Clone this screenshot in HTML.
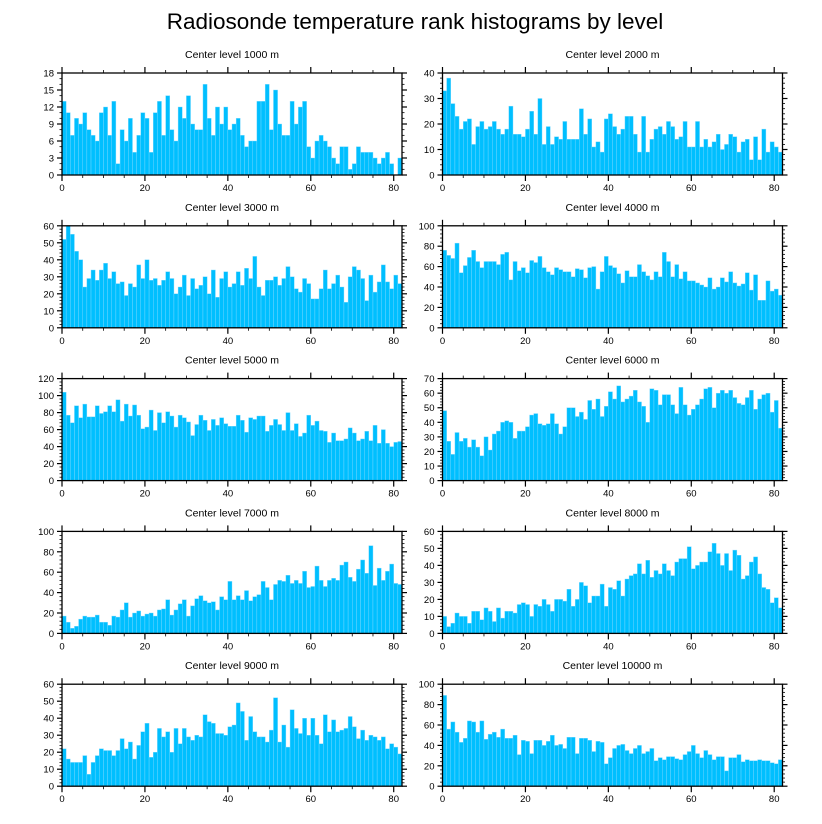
<!DOCTYPE html>
<html><head><meta charset="utf-8"><style>
html,body{margin:0;padding:0;background:#fff;}
svg{display:block;font-family:"Liberation Sans",sans-serif;}
</style></head><body>
<svg id="chart" width="822" height="824" viewBox="0 0 822 824">
<text x="415" y="29" text-anchor="middle" font-size="22.5" fill="#000">Radiosonde temperature rank histograms by level</text>
</svg>
<script>
const titles = ["Center level 1000 m","Center level 2000 m","Center level 3000 m","Center level 4000 m","Center level 5000 m","Center level 6000 m","Center level 7000 m","Center level 8000 m","Center level 9000 m","Center level 10000 m"];
const yMax = [18,40,60,100,120,70,100,60,60,100];
const yStep = [3,10,10,20,20,10,20,10,10,20];
const yMinor = [1,2,2,4,4,2,4,2,2,4];
const xTicks = [0,20,40,60,80];
const d1000 = [13,11,7,10,9,11,8,7,6,11,12,7,13,2,8,6,10,4,7,11,10,4,11,13,7,14,8,6,12,10,14,9,8,8,16,10,7,12,9,12,8,9,10,7,5,6,6,13,13,16,8,15,9,7,7,13,9,12,13,5,3,6,7,6,5,3,2,5,5,1,2,5,4,4,4,3,2,3,4,2,0,3];
const d2000 = [33,38,28,23,18,21,22,12,19,21,18,19,21,18,16,18,27,16,16,15,18,25,16,30,12,19,12,15,14,21,14,14,14,26,16,22,11,13,9,22,24,19,16,18,23,23,16,9,23,9,14,18,19,16,21,19,14,15,21,11,11,21,11,14,11,13,16,10,12,16,15,9,13,14,6,15,6,18,9,13,11,9];
const d3000 = [52,60,55,45,40,24,29,34,28,34,38,29,33,26,27,19,26,24,37,29,40,28,29,25,28,33,29,20,24,31,19,29,23,25,30,20,34,18,29,33,24,26,33,25,35,29,42,24,19,28,28,30,25,29,36,30,23,21,29,26,17,17,23,34,23,26,31,24,15,30,36,34,29,16,31,21,27,37,27,23,31,26];
const d4000 = [76,71,68,83,54,61,69,76,65,59,65,65,65,62,72,74,47,65,56,59,54,66,64,70,59,55,52,59,57,55,55,50,58,57,49,59,60,38,55,70,61,59,53,44,56,50,50,62,55,51,47,55,50,74,65,50,62,48,55,46,46,44,42,40,49,38,40,49,45,55,44,41,43,54,37,52,27,27,46,36,38,32];
const d5000 = [104,77,68,88,74,90,75,75,88,79,81,88,81,95,70,90,76,89,77,61,63,83,59,80,68,81,76,63,77,74,69,53,66,77,71,59,72,65,74,67,64,64,77,71,57,74,72,76,76,58,65,72,66,59,80,59,67,52,56,77,65,70,59,58,45,56,47,47,49,62,56,47,49,58,47,65,44,60,44,40,45,46];
const d6000 = [48,27,18,33,27,29,23,28,23,17,30,21,32,34,40,41,40,29,34,34,37,45,46,39,38,39,46,39,32,37,50,50,44,47,42,55,49,56,44,51,61,56,65,54,56,58,62,54,51,40,63,62,52,59,59,52,46,64,52,45,49,52,56,63,64,50,60,62,60,62,57,53,52,57,62,49,56,59,60,47,55,36];
const d7000 = [17,11,5,7,14,17,16,16,18,11,11,8,17,16,23,30,16,20,22,17,19,20,17,23,24,33,18,23,29,33,17,27,34,37,32,30,31,23,36,33,51,33,37,33,42,32,36,38,51,45,33,48,52,51,57,49,52,49,61,45,46,66,52,46,52,54,52,67,70,55,51,63,72,59,86,47,64,52,61,68,49,48];
const d8000 = [10,4,6,12,10,10,6,13,13,8,15,13,7,15,9,13,13,12,17,18,17,10,17,16,20,17,13,20,20,19,26,16,20,30,28,18,22,22,29,16,27,26,31,22,32,34,35,41,35,43,33,37,35,41,37,34,42,44,44,51,38,40,42,42,48,53,47,40,47,37,49,46,32,34,42,45,35,27,26,18,21,15];
const d9000 = [22,16,14,14,14,18,7,14,18,22,21,21,18,21,28,22,26,16,24,32,37,17,20,34,29,32,20,34,25,34,29,27,30,29,42,38,37,31,31,30,35,36,49,44,27,41,32,29,29,26,33,52,26,36,23,45,34,31,40,30,40,30,25,42,32,39,32,33,34,41,35,28,33,27,30,29,27,29,22,25,23,19];
const d10000 = [89,56,63,53,43,47,64,63,53,64,46,51,53,48,56,47,47,50,31,45,44,32,45,45,40,44,50,40,41,37,48,48,32,47,47,45,34,44,43,22,28,37,40,41,35,32,37,40,32,34,37,25,28,26,29,29,27,26,31,34,40,32,28,35,31,26,29,29,15,28,28,31,24,26,25,25,26,25,25,23,22,26];
const series = [d1000,d2000,d3000,d4000,d5000,d6000,d7000,d8000,d9000,d10000];

const NS = "http://www.w3.org/2000/svg";
const svg = document.getElementById('chart');
function mk(tag, attrs, parent){ const e=document.createElementNS(NS,tag); for(const k in attrs) e.setAttribute(k,attrs[k]); parent.appendChild(e); return e; }
const PW=340, PH=102, NB=82;
const lefts=[62,442.5];
for(let p=0;p<10;p++){
  const col=p%2, row=Math.floor(p/2);
  const L=lefts[col], T=73+152.8*row, B=T+PH, R=L+PW;
  const g=mk('g',{},svg);
  
  
  const xs=v=>L+v*PW/NB;
  const ys=v=>B-v*PH/yMax[p];
  const t=mk('text',{x:L+PW/2,y:T-15,'text-anchor':'middle','font-size':'10.5',fill:'#000'},g);
  t.textContent=titles[p];
  
  
  const data=series[p];
  for(let i=0;i<data.length;i++){
    if(data[i]<=0) continue;
    const r=mk('rect',{x:xs(i),y:ys(Math.min(data[i],yMax[p])),width:PW/NB,height:B-ys(Math.min(data[i],yMax[p])),fill:'#00bfff',stroke:'#7fd9ff','stroke-width':'0.4'},g);
    
    
  }
  const fr=mk('rect',{x:L,y:T,width:PW,height:PH,fill:'none',stroke:'#000','stroke-width':'1.3'},g);
  
  
  for(let v=0; v<=yMax[p]+1e-9; v+=yMinor[p]){
    const major = Math.abs(v/yStep[p]-Math.round(v/yStep[p]))<1e-6;
    const len = major?5:2.5;
    const y=ys(v);
    mk('line',{x1:L-len,x2:L,y1:y,y2:y,stroke:'#000','stroke-width':major?1.2:0.8},g);
    mk('line',{x1:R,x2:R+len,y1:y,y2:y,stroke:'#000','stroke-width':major?1.2:0.8},g);
    if(major){
      const lt=mk('text',{x:L-8,y:y+3.5,'text-anchor':'end','font-size':'9.5',fill:'#000'},g);
      lt.textContent=String(Math.round(v));
      
      
    }
  }
  for(let v=0; v<=NB; v+=5){
    const major = v%20===0;
    const len = major?6:3;
    const x=xs(v);
    mk('line',{x1:x,x2:x,y1:B,y2:B+len,stroke:'#000','stroke-width':major?1.2:0.8},g);
    mk('line',{x1:x,x2:x,y1:T-len,y2:T,stroke:'#000','stroke-width':major?1.2:0.8},g);
  }
  for(const v of xTicks){
    const xt=mk('text',{x:xs(v),y:B+16,'text-anchor':'middle','font-size':'9.5',fill:'#000'},g);
    xt.textContent=String(v);
    
    
  }
}
</script>
</body></html>
